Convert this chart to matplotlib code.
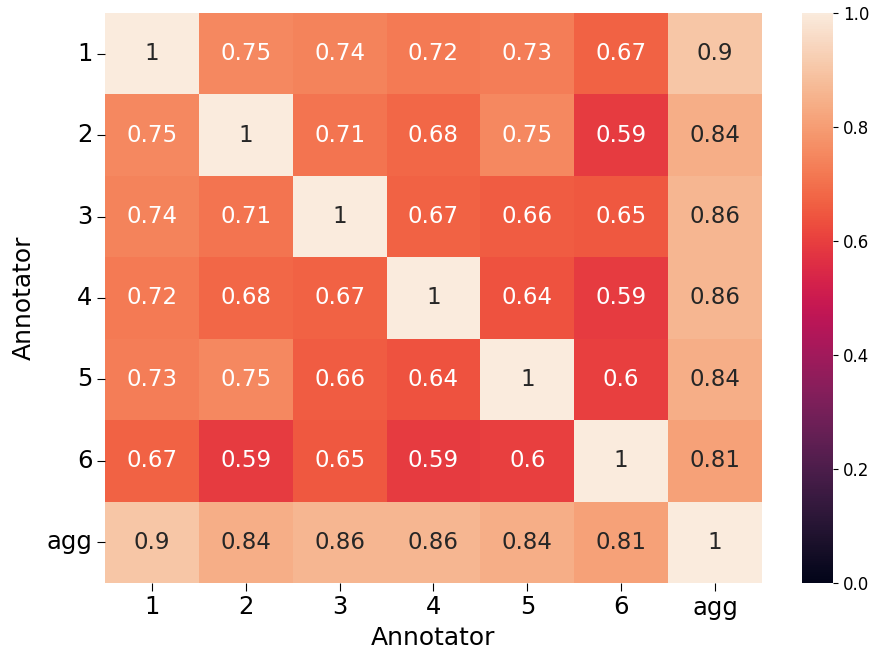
import numpy as np
import matplotlib
matplotlib.use("Agg")
import matplotlib.pyplot as plt
import seaborn as sns

labels = ["1", "2", "3", "4", "5", "6", "agg"]
agreement = [
    [1.00, 0.75, 0.74, 0.72, 0.73, 0.67, 0.90],
    [0.75, 1.00, 0.71, 0.68, 0.75, 0.59, 0.84],
    [0.74, 0.71, 1.00, 0.67, 0.66, 0.65, 0.86],
    [0.72, 0.68, 0.67, 1.00, 0.64, 0.59, 0.86],
    [0.73, 0.75, 0.66, 0.64, 1.00, 0.60, 0.84],
    [0.67, 0.59, 0.65, 0.59, 0.60, 1.00, 0.81],
    [0.90, 0.84, 0.86, 0.86, 0.84, 0.81, 1.00],
]

W, H = 879, 650
fig = plt.figure(figsize=(W / 100, H / 100), dpi=100)
ax = fig.add_axes([105 / W, 1 - 583 / H, 657 / W, 570 / H])
cax = fig.add_axes([802 / W, 1 - 583 / H, 31 / W, 570 / H])
sns.heatmap(np.array(agreement), vmin=0, vmax=1, annot=True, cmap="rocket",
            xticklabels=labels, yticklabels=labels, ax=ax, cbar_ax=cax,
            annot_kws={"fontsize": 16.5})
ax.tick_params(labelsize=17.5, length=5.5)
ax.tick_params(axis="y", rotation=0)
ax.set_xlabel("Annotator", fontsize=18, labelpad=5)
ax.set_ylabel("Annotator", fontsize=18, labelpad=8)
cax.tick_params(labelsize=12)
plt.savefig("out.png")
